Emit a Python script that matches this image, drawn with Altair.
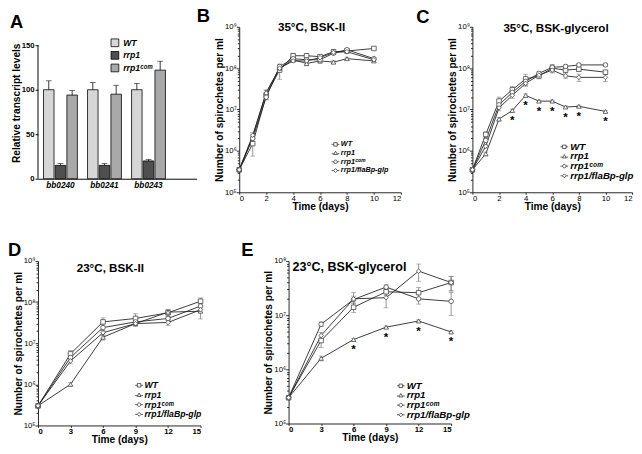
import altair as alt
import pandas as pd

FONT = "Liberation Sans"
INK = "#222222"

# ---------------- Panel A: relative transcript levels ----------------
genes = ["bb0240", "bb0241", "bb0243"]
a_strains = ["WT", "rrp1", "rrp1ᶜᵒᵐ"]
a_wt = [100, 100, 100]
a_wt_err = [10, 8, 7]
a_rrp1 = [15, 15, 20]
a_rrp1_err = [2, 2, 1.5]
a_com = [94, 95, 122]
a_com_err = [5, 10, 10]
a_ticks = [0, 25, 50, 75, 100, 125, 150]
a_fill = ["#d6d6d6", "#4f4f4f", "#a9a9a9"]

# ---------------- Growth curves ----------------
strains = ["WT", "rrp1", "rrp1ᶜᵒᵐ", "rrp1/flaBp-glp"]
point_shapes = ["square", "triangle-up", "circle", "diamond"]
legend_shapes = [
    "M-1,0H-0.45M0.45,0H1M-0.45,-0.45H0.45V0.45H-0.45Z",
    "M-1,0.15H-0.48M0.48,0.15H1M0,-0.5L0.5,0.38L-0.5,0.38Z",
    "M-1,0H-0.45M0.45,0H1M-0.45,0A0.45,0.45 0 1,0 0.45,0A0.45,0.45 0 1,0 -0.45,0Z",
    "M-1,0H-0.5M0.5,0H1M0,-0.5L0.5,0L0,0.5L-0.5,0Z",
]

# B: 35C BSK-II
b_days = [0, 1, 2, 3, 4, 5, 6, 7, 8, 10]
b_wt = [3.5e5, 1.5e6, 2.2e7, 9.0e7, 2.0e8, 2.0e8, 1.9e8, 2.5e8, 2.6e8, 3.0e8]
b_rrp1 = [3.5e5, 2.2e6, 2.6e7, 1.0e8, 1.6e8, 1.3e8, 1.5e8, 1.4e8, 1.7e8, 1.5e8]
b_com = [3.5e5, 2.0e6, 2.0e7, 1.1e8, 1.7e8, 1.6e8, 1.6e8, 2.3e8, 2.8e8, 1.7e8]
b_glp = [3.5e5, 2.4e6, 2.5e7, 1.0e8, 1.5e8, 1.5e8, 1.8e8, 2.4e8, 2.5e8, 1.6e8]
b_wt_sd = [0, 0.5, 0.2, 0.4, 0.12, 0.12, 0.1, 0.1, 0.08, 0.05]
b_rrp1_sd = [0, 0.15, 0.15, 0.15, 0.1, 0.12, 0.12, 0.08, 0.08, 0.06]
b_com_sd = [0, 0.15, 0.15, 0.1, 0.08, 0.08, 0.08, 0.06, 0.06, 0.06]
b_glp_sd = [0, 0.15, 0.15, 0.1, 0.08, 0.08, 0.08, 0.06, 0.06, 0.06]

# C: 35C BSK-glycerol
c_days = [0, 1, 2, 3, 4, 5, 6, 7, 8, 10]
c_wt = [3.5e5, 2.5e6, 1.6e7, 3.0e7, 5.5e7, 6.5e7, 1.0e8, 9.0e7, 9.5e7, 8.0e7]
c_rrp1 = [3.5e5, 8.5e5, 5.9e6, 9.5e6, 2.2e7, 1.6e7, 1.6e7, 1.15e7, 1.2e7, 9.0e6]
c_com = [3.5e5, 1.8e6, 1.3e7, 2.6e7, 4.8e7, 7.5e7, 1.05e8, 1.1e8, 1.2e8, 1.2e8]
c_glp = [3.5e5, 1.3e6, 1.1e7, 2.2e7, 4.3e7, 6.8e7, 9.0e7, 6.5e7, 6.0e7, 6.0e7]
c_wt_sd = [0, 0.15, 0.25, 0.2, 0.3, 0.15, 0.2, 0.12, 0.12, 0.1]
c_rrp1_sd = [0, 0.1, 0.1, 0.08, 0.08, 0.06, 0.06, 0.06, 0.06, 0.06]
c_com_sd = [0, 0.1, 0.15, 0.15, 0.15, 0.12, 0.15, 0.1, 0.08, 0.08]
c_glp_sd = [0, 0.1, 0.15, 0.15, 0.15, 0.12, 0.15, 0.12, 0.2, 0.2]
c_star_days = [3, 4, 5, 6, 7, 8, 10]

# D: 23C BSK-II
d_days = [0, 3, 6, 9, 12, 15]
d_wt = [3e5, 5.5e6, 3.3e7, 4.0e7, 5.5e7, 1.05e8]
d_rrp1 = [3e5, 1.0e6, 1.4e7, 3.0e7, 5.7e7, 6.0e7]
d_com = [3e5, 4.5e6, 2.4e7, 3.3e7, 4.0e7, 8.0e7]
d_glp = [3e5, 3.7e6, 1.8e7, 3.0e7, 3.2e7, 6.5e7]
d_wt_sd = [0, 0.2, 0.25, 0.3, 0.2, 0.2]
d_rrp1_sd = [0, 0.1, 0.15, 0.15, 0.15, 0.35]
d_com_sd = [0, 0.15, 0.15, 0.1, 0.1, 0.15]
d_glp_sd = [0, 0.15, 0.15, 0.1, 0.15, 0.15]

# E: 23C BSK-glycerol
e_days = [0, 3, 6, 9, 12, 15]
e_wt = [3e5, 3.4e6, 1.4e7, 2.7e7, 2.6e7, 4.0e7]
e_rrp1 = [3e5, 1.6e6, 3.55e6, 6.0e6, 7.8e6, 4.9e6]
e_com = [3e5, 6.8e6, 1.95e7, 3.3e7, 2.0e7, 1.8e7]
e_glp = [3e5, 4.2e6, 2.0e7, 2.1e7, 6.5e7, 4.0e7]
e_wt_sd = [0, 0.25, 0.2, 0.15, 0.25, 0.3]
e_rrp1_sd = [0, 0.1, 0.05, 0.05, 0.05, 0.05]
e_com_sd = [0, 0.1, 0.15, 0.1, 0.2, 0.45]
e_glp_sd = [0, 0.15, 0.3, 0.35, 0.35, 0.3]
e_star_days = [6, 9, 12, 15]

SUP = "['⁰','¹','²','³','⁴','⁵','⁶','⁷','⁸','⁹']"


def letter_title(txt, dx, offset):
    return alt.TitleParams(text=txt, anchor="start", frame="group", dx=dx, offset=offset,
                           font=FONT, fontSize=19, fontWeight="bold", color="black")


def heading(txt, x, y, size):
    return alt.Chart(pd.DataFrame({"t": [txt]})).mark_text(
        align="left", baseline="top", font=FONT, fontSize=size, fontWeight="bold", color="black"
    ).encode(text="t:N", x=alt.value(x), y=alt.value(y))


# ---------------- build panel A ----------------
A_W, A_H_AXIS, A_H = 164, 138, 157   # plot is taller than the 0-150 axis so it lines up with B/C
a_rows = []
for gi, g in enumerate(genes):
    for s, v, e in zip(a_strains, [a_wt, a_rrp1, a_com], [a_wt_err, a_rrp1_err, a_com_err]):
        a_rows.append({"gene": g, "strain": s, "val": v[gi], "top": v[gi] + e[gi]})
dfa = pd.DataFrame(a_rows)

xa = alt.X("gene:N", sort=genes,
           scale=alt.Scale(paddingInner=0.23, paddingOuter=0.417, align=0.15),
           axis=alt.Axis(title=None, labelAngle=0, labelFont=FONT, labelFontStyle="italic",
                         labelFontWeight="bold", labelFontSize=8.5, labelColor="black",
                         ticks=False, domainColor="black", domainWidth=1, labelPadding=2))
xoa = alt.XOffset("strain:N", sort=a_strains, scale=alt.Scale(paddingInner=0.1))
ya_scale = alt.Scale(domain=[0, a_ticks[-1] * A_H / A_H_AXIS], nice=False)
bars = alt.Chart(dfa).mark_bar(stroke="black", strokeWidth=0.8).encode(
    x=xa, xOffset=xoa,
    y=alt.Y("val:Q", scale=ya_scale,
            axis=alt.Axis(values=a_ticks, title="Relative transcript levels", domain=False,
                          titleFont=FONT, titleFontSize=10.5, titleFontWeight="bold", titleColor="black",
                          labelFont=FONT, labelFontSize=8, labelFontWeight="bold", labelColor="black",
                          tickSize=3, tickColor="black", labelPadding=1,
                          titlePadding=0, grid=False)),
    color=alt.Color("strain:N", sort=a_strains,
                    scale=alt.Scale(domain=a_strains, range=a_fill),
                    legend=alt.Legend(orient="none", legendX=75, legendY=12, title=None,
                                      symbolType="square", symbolSize=64, symbolStrokeColor="black",
                                      symbolStrokeWidth=0.8, symbolOpacity=1, labelFont=FONT,
                                      labelFontSize=9, labelFontWeight="bold", labelFontStyle="italic",
                                      labelColor="black", rowPadding=0, padding=0, labelOffset=4)),
)
a_axisline = alt.Chart(pd.DataFrame({"y0": [a_ticks[0]], "y1": [a_ticks[-1]]})).mark_rule(
    color="black", strokeWidth=1).encode(x=alt.value(0), y=alt.Y("y0:Q", scale=ya_scale), y2="y1:Q")
a_err = alt.Chart(dfa).mark_rule(color="black", strokeWidth=0.8).encode(
    x=xa, xOffset=xoa, y=alt.Y("val:Q", scale=ya_scale), y2="top:Q")
a_cap = alt.Chart(dfa).mark_tick(color="black", orient="horizontal", size=6, thickness=0.8).encode(
    x=xa, xOffset=xoa, y=alt.Y("top:Q", scale=ya_scale))
panel_a = alt.layer(bars, a_err, a_cap, a_axisline).properties(
    width=A_W, height=A_H, title=letter_title("A", -29, -5))


# ---------------- growth panel builder ----------------
def growth(days, vals, sds, star_days, head, head_x, head_y, head_size, letter, l_dx, l_off,
           xmax, xstep, ytop, w, h, leg_x, leg_y, leg_font, leg_pad, xbold):
    rows = []
    for s, v, sd in zip(strains, vals, sds):
        for d, y, e in zip(days, v, sd):
            rows.append({"day": d, "n": y, "lo": y * (1 - e), "hi": y * (1 + e), "strain": s})
    df = pd.DataFrame(rows)
    rrp1_vals = vals[1]
    stars = pd.DataFrame({"day": star_days,
                          "n": [rrp1_vals[days.index(d)] for d in star_days],
                          "t": ["*"] * len(star_days)})

    xs = alt.Scale(domain=[0, xmax], nice=False)
    ys = alt.Scale(type="log", domain=[1e5, ytop], nice=False)
    xax = alt.Axis(values=list(range(0, xmax + 1, xstep)), title="Time (days)", grid=False,
                   titleFont=FONT, titleFontSize=10.5, titleFontWeight="bold", titleColor="black",
                   labelFont=FONT, labelFontSize=8, labelFontWeight="bold" if xbold else "normal",
                   labelColor="black", tickSize=2, tickColor=INK, domainColor=INK,
                   labelPadding=0, titlePadding=0)
    X = alt.X("day:Q", scale=xs, axis=xax)
    majors = [10 ** k for k in range(5, 10) if 10 ** k <= ytop]
    minors = [m * 10 ** k for k in range(5, 9) for m in range(2, 10) if m * 10 ** k < ytop]
    yax = alt.Axis(values=majors, labelExpr="'10' + " + SUP + "[round(log(datum.value)/LN10)]",
                   title="Number of spirochetes per ml", grid=False,
                   titleFont=FONT, titleFontSize=10.5, titleFontWeight="bold", titleColor="black",
                   labelFont=FONT, labelFontSize=8, labelColor="black",
                   tickSize=3, tickColor=INK, domainColor=INK, labelPadding=0, titlePadding=0,
                   orient="left")
    yminor = alt.Axis(values=minors, labels=False, domain=False, title=None, grid=False,
                      tickSize=2, tickColor=INK, orient="left")

    base = alt.Chart(df)
    lines = base.mark_line(color=INK, strokeWidth=0.9).encode(
        x=X, y=alt.Y("n:Q", scale=ys, axis=yax), detail="strain:N")
    minor = base.mark_text(text="").encode(
        x=X, y=alt.Y("n:Q", scale=ys, axis=yminor))
    errs = base.mark_rule(color="#777777", strokeWidth=0.8).encode(
        x=X, y=alt.Y("lo:Q", scale=ys, axis=None), y2="hi:Q")
    caps_lo = base.mark_tick(color="#777777", orient="horizontal", size=5, thickness=0.8).encode(
        x=X, y=alt.Y("lo:Q", scale=ys, axis=None))
    caps_hi = base.mark_tick(color="#777777", orient="horizontal", size=5, thickness=0.8).encode(
        x=X, y=alt.Y("hi:Q", scale=ys, axis=None))
    pts = base.mark_point(filled=True, fill="white", stroke="#444444", strokeWidth=0.8,
                          size=22, opacity=1).encode(
        x=X, y=alt.Y("n:Q", scale=ys, axis=None),
        shape=alt.Shape("strain:N", sort=strains,
                        scale=alt.Scale(domain=strains, range=point_shapes), legend=None))
    leg = base.transform_filter("false").mark_point(filled=False, color="#333333",
                                                    strokeWidth=0.8, opacity=1).encode(
        x=X, y=alt.Y("n:Q", scale=ys, axis=None),
        shape=alt.Shape("strain:N", sort=strains,
                        scale=alt.Scale(domain=strains, range=legend_shapes),
                        legend=alt.Legend(orient="none", legendX=leg_x, legendY=leg_y, title=None,
                                          symbolSize=64, symbolOpacity=1,
                                          symbolStrokeColor="#333333", symbolStrokeWidth=0.8,
                                          labelFont=FONT, labelFontSize=leg_font,
                                          labelFontWeight="bold", labelFontStyle="italic",
                                          labelColor="black", rowPadding=leg_pad, padding=0,
                                          labelOffset=1)))
    layers = [lines, minor, errs, caps_lo, caps_hi, pts, leg]
    if star_days:
        layers.append(alt.Chart(stars).mark_text(font=FONT, fontSize=12, fontWeight="bold",
                                                 color="black", dy=10, baseline="middle").encode(
            x=X, y=alt.Y("n:Q", scale=ys, axis=None), text="t:N"))
    layers.append(heading(head, head_x, head_y, head_size))
    return alt.layer(*layers).resolve_axis(y="independent").resolve_scale(shape="independent").properties(
        width=w, height=h, title=letter_title(letter, l_dx, l_off))


panel_b = growth(b_days, [b_wt, b_rrp1, b_com, b_glp], [b_wt_sd, b_rrp1_sd, b_com_sd, b_glp_sd], [],
                 "35°C, BSK-II", 40, -5, 12, "B", -44, -5, 12, 2, 1e9, 167, 171, 95, 117, 7.5, 1, False)
panel_c = growth(c_days, [c_wt, c_rrp1, c_com, c_glp], [c_wt_sd, c_rrp1_sd, c_com_sd, c_glp_sd], c_star_days,
                 "35°C, BSK-glycerol", 32, -4, 12, "C", -58, -5, 12, 2, 1e9, 165, 171, 90, 119, 10, 0, False)
panel_d = growth(d_days, [d_wt, d_rrp1, d_com, d_glp], [d_wt_sd, d_rrp1_sd, d_com_sd, d_glp_sd], [],
                 "23°C, BSK-II", 40, 2, 12, "D", -31, -3, 15, 3, 1e9, 168, 170, 100, 124, 9, 0, True)
panel_e = growth(e_days, [e_wt, e_rrp1, e_com, e_glp], [e_wt_sd, e_rrp1_sd, e_com_sd, e_glp_sd], e_star_days,
                 "23°C, BSK-glycerol", 4, 0, 13, "E", -49, -3, 15, 3, 1e8, 168, 168, 111, 124, 10, 0, True)

top = alt.hconcat(alt.hconcat(panel_a, panel_b, spacing=0), panel_c, spacing=15)
bottom = alt.hconcat(panel_d, panel_e, spacing=38)
chart = alt.vconcat(top, bottom, spacing=30).properties(
    padding={"left": 0, "top": -8, "right": 0, "bottom": 0}, background="white").configure_view(
    stroke=None).configure_concat(spacing=0)

chart.save("out.html", embed_options={"renderer": "svg", "actions": False})
